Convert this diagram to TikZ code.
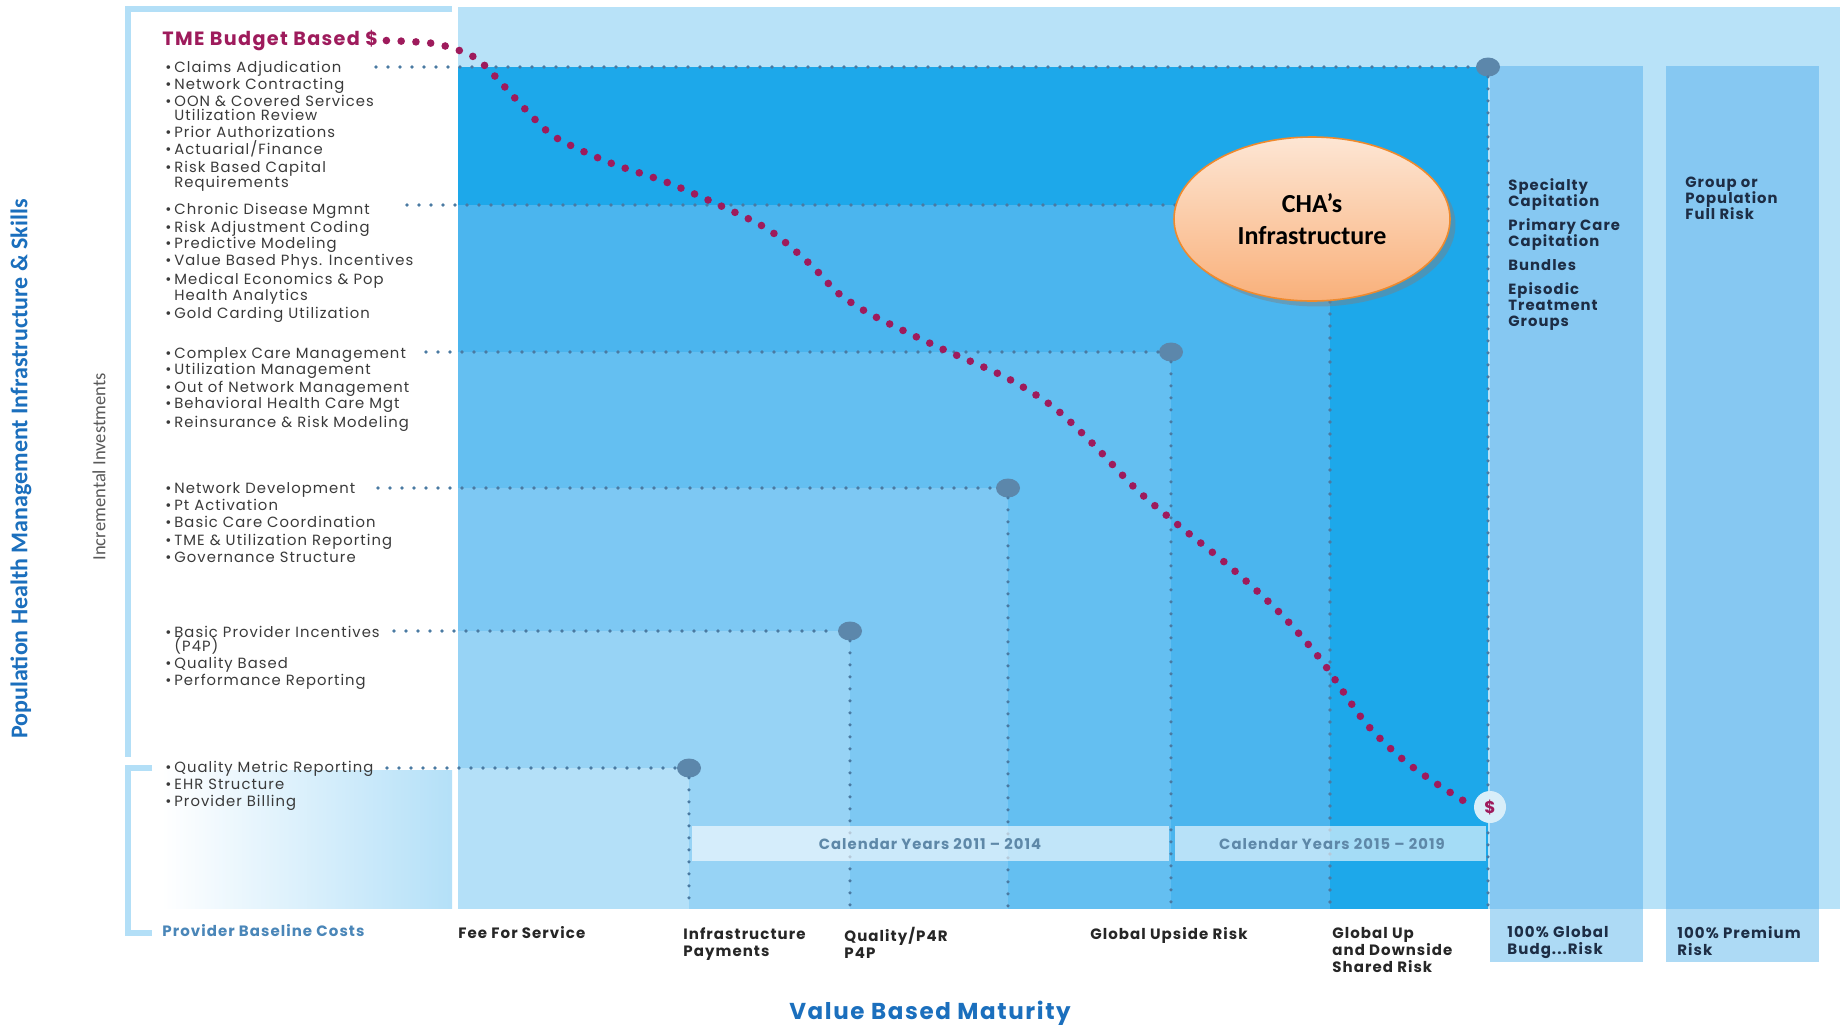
\documentclass[tikz,border=0pt]{standalone}
\usepackage{fontspec}
\setmainfont{Poppins}[LetterSpace=7]
\newfontfamily\calibfont{Carlito}
\usetikzlibrary{shapes.geometric,shadows}

\definecolor{skyback}{HTML}{B8E2F8}
\definecolor{stepA}{HTML}{1DA8EA}
\definecolor{stepB}{HTML}{4BB5EE}
\definecolor{stepC}{HTML}{64BFF1}
\definecolor{stepD}{HTML}{7DC8F3}
\definecolor{stepE}{HTML}{97D3F5}
\definecolor{stepF}{HTML}{B4E0F8}
\definecolor{colblue}{HTML}{86C8F2}
\definecolor{collight}{HTML}{ADDAF5}
\definecolor{bracket}{HTML}{B3DFF7}
\definecolor{dotblue}{HTML}{4A7AA2}
\definecolor{budget}{HTML}{9E1B5C}
\definecolor{navy}{HTML}{1D2D45}
\definecolor{titleblue}{HTML}{1B6FBD}
\definecolor{provblue}{HTML}{4A86B8}
\definecolor{calgray}{HTML}{5E88A8}
\definecolor{listgray}{HTML}{3A3A3A}
\definecolor{dollarbg}{HTML}{D8EEF9}
\definecolor{peach}{HTML}{FDE6D4}
\definecolor{orangeb}{HTML}{F9B07A}
\definecolor{ellborder}{HTML}{EE8A2E}

\tikzstyle{item} = [anchor=mid west, inner sep=0pt, font=\fontsize{7.4}{8}\selectfont, text=listgray]
\tikzstyle{stage} = [anchor=north west, inner sep=0pt, align=left, font=\fontsize{7.5}{8.5}\selectfont\bfseries, text=black!85]
\tikzstyle{riskcol} = [anchor=north west, inner sep=0pt, align=left, font=\fontsize{7.4}{8}\selectfont\bfseries, text=navy]
\tikzstyle{years} = [font=\fontsize{7.4}{8}\selectfont\bfseries, text=calgray]
\tikzstyle{guide} = [draw=dotblue, line width=1.8pt, dash pattern=on 0pt off 6pt, line cap=round]
\tikzstyle{milestone} = [ellipse, fill=dotblue!90, minimum width=12pt, minimum height=9.5pt, inner sep=0pt]
\tikzstyle{budgetline} = [draw=budget, line width=3.8pt, dash pattern=on 0pt off 7.4pt, line cap=round]
\tikzstyle{brace} = [draw=bracket, line width=3pt]

\begin{document}
\begin{tikzpicture}[x=0.5pt,y=-0.5pt]
\useasboundingbox (0,0) rectangle (1840,1024);
\fill[white] (0,0) rectangle (1840,1024);

% background and the two full risk columns
\fill[skyback] (458,7) rectangle (1840,909);
\fill[colblue] (1490,66) rectangle (1643,909);
\fill[collight] (1490,909) rectangle (1643,962);
\fill[colblue] (1666,66) rectangle (1819,909);
\fill[collight] (1666,909) rectangle (1819,962);

% staircase, darkest step first
\fill[stepA] (458,67) rectangle (1488,909);
\fill[stepB] (458,205) rectangle (1330,909);
\fill[stepC] (458,352) rectangle (1171,909);
\fill[stepD] (458,488) rectangle (1008,909);
\fill[stepE] (458,631) rectangle (850,909);
\fill[stepF] (458,768) rectangle (689,909);

% baseline box and brackets
\shade[left color=white, right color=stepF] (162,770) rectangle (452,908);
\draw[brace] (452,9) -- (128,9) -- (128,757);
\draw[brace] (152,768) -- (128,768) -- (128,933) -- (152,933);

% milestones and guide lines
\coordinate (floor) at (0,909);
\node[milestone] (mClaims) at (1488,67) {};
\coordinate (mChronic) at (1330,205);
\node[milestone] (mComplex) at (1171,352) {};
\node[milestone] (mNetwork) at (1008,488) {};
\node[milestone] (mBasic) at (850,631) {};
\node[milestone] (mQuality) at (689,768) {};
\coordinate (sClaims) at (376,67);
\coordinate (sChronic) at (407,205);
\coordinate (sComplex) at (426,352);
\coordinate (sNetwork) at (378,488);
\coordinate (sBasic) at (394,631);
\coordinate (sQuality) at (387,768);
\draw[guide] (sClaims) -- (mClaims) -- (mClaims |- floor);
\draw[guide] (sChronic) -- (mChronic) -- (mChronic |- floor);
\draw[guide] (sComplex) -- (mComplex) -- (mComplex |- floor);
\draw[guide] (sNetwork) -- (mNetwork) -- (mNetwork |- floor);
\draw[guide] (sBasic) -- (mBasic) -- (mBasic |- floor);
\draw[guide] (sQuality) -- (mQuality) -- (mQuality |- floor);

% calendar bands
\fill[white, opacity=.6] (692,826) rectangle (1169,861);
\fill[white, opacity=.6] (1175,826) rectangle (1486,861);
\node[years] (cal1) at (930,844) {Calendar Years 2011 – 2014};
\node[years] (cal2) at (1332,844) {Calendar Years 2015 – 2019};

% budget curve
\node[anchor=mid west, inner sep=0pt, font=\fontsize{9.6}{10}\selectfont\bfseries, text=budget] (tme) at (162,40) {TME Budget Based \$};
\node[circle, fill=dollarbg, minimum size=16pt, inner sep=0pt, font=\fontsize{8.5}{8.5}\selectfont\bfseries, text=budget] (dollar) at (1490,807) {\$};
\draw[budgetline] plot[smooth, tension=.5] coordinates {([xshift=4pt]tme.east) (430,43) (458,50) (482,63) (526,110) (555,137) (608,162) (666,182) (719,205) (769,230) (811,265) (838,293) (872,315) (938,347) (1005,377) (1052,406) (1091,442) (1136,489) (1177,524) (1229,566) (1279,612) (1321,660) (1364,721) (1400,757) (1434,782) (dollar.west)};

\node[ellipse, draw=ellborder, line width=0.8pt, top color=peach, bottom color=orangeb, minimum width=138pt, minimum height=82pt, drop shadow={opacity=.45}, align=center, font=\calibfont\bfseries\fontsize{13}{16}\selectfont] (cha) at (1312,219) {CHA’s\\Infrastructure};

% investment lists
\foreach \y/\t [count=\i] in {67/Claims Adjudication, 84/Network Contracting, 101/OON \& Covered Services, 132/Prior Authorizations, 149/{Actuarial/Finance}, 167/Risk Based Capital, 209/Chronic Disease Mgmnt, 227/Risk Adjustment Coding, 243/Predictive Modeling, 260/Value Based Phys. Incentives, 279/Medical Economics \& Pop, 313/Gold Carding Utilization, 353/Complex Care Management, 369/Utilization Management, 387/Out of Network Management, 403/Behavioral Health Care Mgt, 422/Reinsurance \& Risk Modeling, 488/Network Development, 505/Pt Activation, 522/Basic Care Coordination, 540/TME \& Utilization Reporting, 557/Governance Structure, 632/Basic Provider Incentives, 663/Quality Based, 680/Performance Reporting, 767/Quality Metric Reporting, 784/EHR Structure, 801/Provider Billing} {
  \node[item] (b\i) at (165,\y) {\textbullet};
  \node[item] (l\i) at (174,\y) {\t};
}
\foreach \y/\t [count=\i] in {115/Utilization Review, 182/Requirements, 295/Health Analytics, 646/(P4P)}
  \node[item] (c\i) at (174,\y) {\t};

% axis titles
\node[rotate=90, font=\calibfont\bfseries\fontsize{12}{14}\selectfont, text=titleblue] (phm) at (21,469) {Population Health Management Infrastructure \& Skills};
\node[rotate=90, font=\calibfont\fontsize{9.3}{11}\selectfont, text=black!65] (incr) at (99,467) {Incremental Investments};
\node[font=\fontsize{11.5}{12}\selectfont\bfseries, text=titleblue] (vbm) at (930,1013) {Value Based Maturity};

% payment model labels
\node[riskcol] (capit) at (1508,178) {Specialty\\Capitation\\[4pt]Primary Care\\Capitation\\[4pt]Bundles\\[4pt]Episodic\\Treatment\\Groups};
\node[riskcol] (fullrisk) at (1685,177) {Group or\\Population\\Full Risk};
\node[stage, text=provblue] (baseline) at (162,924) {Provider Baseline Costs};
\node[stage] (ffs) at (458,926) {Fee For Service};
\node[stage] (infra) at (683,927) {Infrastructure\\Payments};
\node[stage] (qual) at (844,927) {Quality/P4R\\P4P};
\node[stage] (upside) at (1090,927) {Global Upside Risk};
\node[stage] (shared) at (1332,927) {Global Up\\and Downside\\Shared Risk};
\node[stage, text=navy] (glob) at (1507,926) {100\% Global\\Budg...Risk};
\node[stage, text=navy] (prem) at (1677,926) {100\% Premium\\Risk};
\end{tikzpicture}
\end{document}
